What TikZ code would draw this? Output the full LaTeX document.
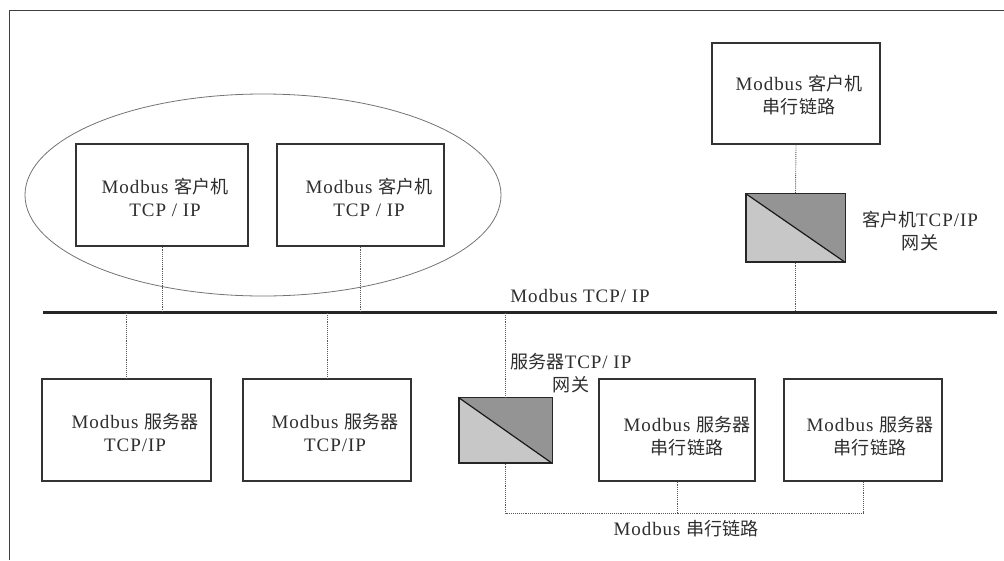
\documentclass[tikz,border=0pt]{standalone}
\usepackage{fontspec}
\setmainfont{Liberation Serif}[LetterSpace=5]
\newfontfamily\cjk{Noto Sans CJK SC}[Scale=0.95]
\newcommand{\zh}[1]{{\cjk #1}}
\begin{document}
\begin{tikzpicture}[x=1pt,y=-1pt,
  every node/.style={font=\fontsize{19}{23}\selectfont, text=black!82},
  box/.style={draw=black!80, line width=1.2pt, inner sep=0pt, minimum height=102pt},
  gw/.style={draw=black!85, line width=1.2pt, inner sep=0pt, fill=black!22},
  link/.style={draw=black!65, line width=0.9pt, densely dotted},
  txt/.style={align=center, inner sep=0pt}]
\useasboundingbox (0,0) rectangle (1004,560);
% frame
\draw[black!75, line width=1pt] (9,560) -- (9,10) -- (1004,10);
% ellipse
\draw[black!55, line width=0.8pt] (263,195) ellipse [x radius=238, y radius=101];
% bus
\coordinate (busL) at (43,312);
\coordinate (busR) at (997,312);
\draw[black!85, line width=3pt] (busL) -- (busR);
\node[txt] (buslbl) at (580,296) {Modbus TCP/ IP};
% client boxes
\node[box, minimum width=172pt] (c1) at (162,195) {};
\node[txt] (c1t) at (165,197) {Modbus \zh{客户机}\\TCP / IP};
\node[box, minimum width=167pt] (c2) at (360.5,195) {};
\node[txt] (c2t) at (369,197) {Modbus \zh{客户机}\\TCP / IP};
% top-right client serial
\node[box, minimum width=168pt, minimum height=101pt] (c3) at (796,93.5) {};
\node[txt] (c3t) at (799,95) {Modbus \zh{客户机}\\\zh{串行链路}};
% client gateway
\node[gw, minimum width=99pt, minimum height=68pt] (g1) at (795.5,228) {};
\fill[black!42] (g1.north west) -- (g1.north east) -- (g1.south east) -- cycle;
\draw[black!90, line width=1.2pt] (g1.north west) -- (g1.south east);
\draw[black!85, line width=1.2pt] (g1.north west) rectangle (g1.south east);
\node[txt] (g1t) at (920,231) {\zh{客户机}TCP/IP\\\zh{网关}};
% server boxes
\node[box, minimum width=169pt] (s1) at (126.5,430) {};
\node[txt] (s1t) at (135,432) {Modbus \zh{服务器}\\TCP/IP};
\node[box, minimum width=168pt] (s2) at (327,430) {};
\node[txt] (s2t) at (335,432) {Modbus \zh{服务器}\\TCP/IP};
\node[box, minimum width=156pt] (s3) at (677,430) {};
\node[txt] (s3t) at (687,436) {Modbus \zh{服务器}\\\zh{串行链路}};
\node[box, minimum width=158pt] (s4) at (863,430) {};
\node[txt] (s4t) at (870,436) {Modbus \zh{服务器}\\\zh{串行链路}};
% server gateway
\node[gw, minimum width=93pt, minimum height=65pt] (g2) at (505.5,430.5) {};
\fill[black!42] (g2.north west) -- (g2.north east) -- (g2.south east) -- cycle;
\draw[black!90, line width=1.2pt] (g2.north west) -- (g2.south east);
\draw[black!85, line width=1.2pt] (g2.north west) rectangle (g2.south east);
\node[txt] (g2t) at (571,373) {\zh{服务器}TCP/ IP\\\zh{网关}};
% connectors to bus
\draw[link] (c1.south) -- (c1.south |- busL);
\draw[link] (c2.south) -- (c2.south |- busL);
\draw[link] (c3.south) -- (g1.north);
\draw[link] (g1.south) -- (g1.south |- busL);
\draw[link] (s1.north) -- (s1.north |- busL);
\draw[link] (s2.north) -- (s2.north |- busL);
\draw[link] (g2.north) -- (g2.north |- busL);
% serial link
\coordinate (sl) at (504,513);
\draw[link] (g2.south) -- (g2.south |- sl) -- (s4.south |- sl) -- (s4.south);
\draw[link] (s3.south) -- (s3.south |- sl);
\node[txt] (sllbl) at (686,529) {Modbus \zh{串行链路}};
\end{tikzpicture}
\end{document}
